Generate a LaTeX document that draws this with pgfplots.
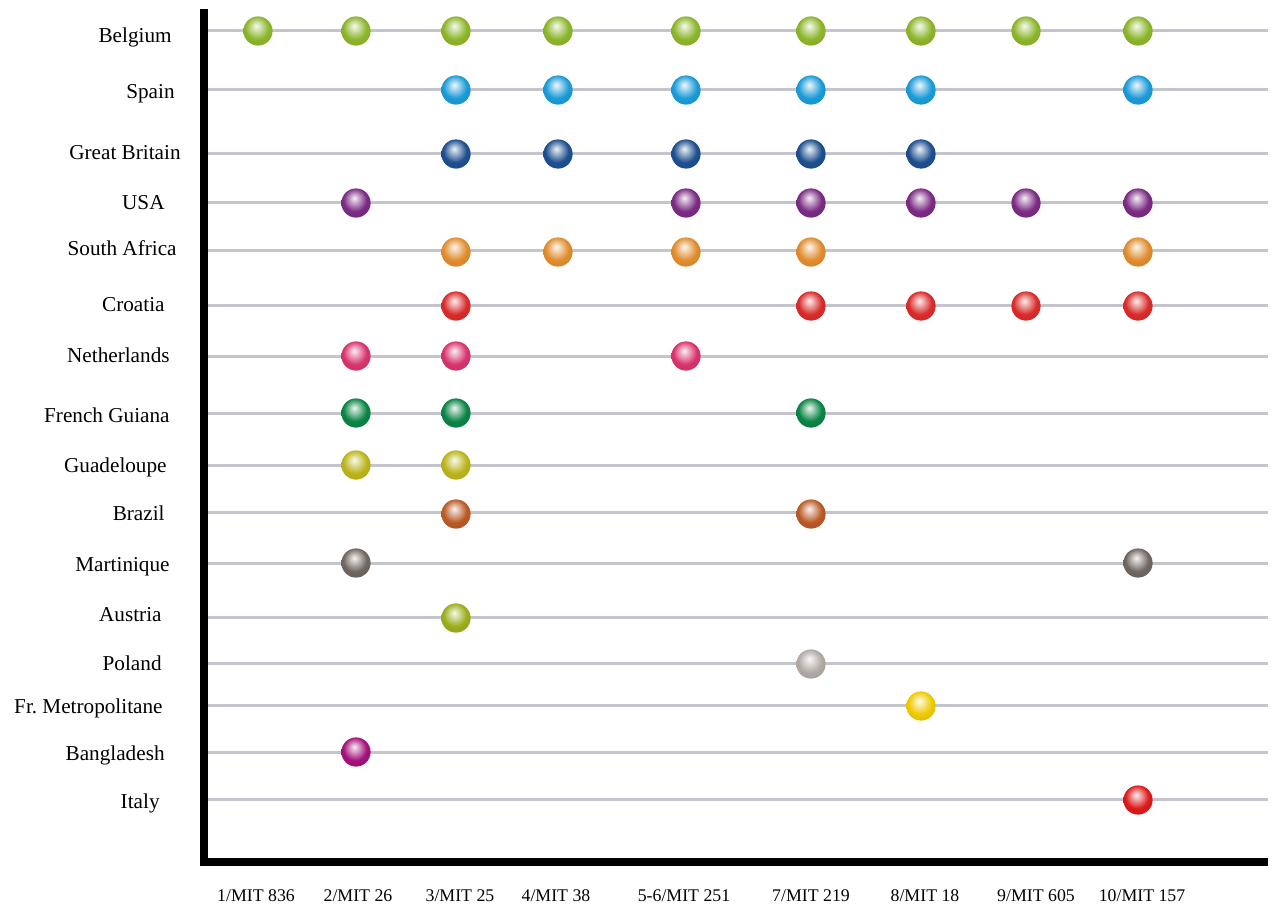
\documentclass[border=0pt]{standalone}
\usepackage{pgfplots}
\pgfplotsset{compat=1.18}
\usepackage{fontspec}
\setmainfont{Liberation Serif}

\definecolor{cBE}{HTML}{8CB52B}
\definecolor{cES}{HTML}{1A9BD7}
\definecolor{cGB}{HTML}{1D4F8F}
\definecolor{cUS}{HTML}{7B2B83}
\definecolor{cZA}{HTML}{E08C2E}
\definecolor{cHR}{HTML}{D92B2B}
\definecolor{cNL}{HTML}{D8336F}
\definecolor{cGF}{HTML}{0A8444}
\definecolor{cGP}{HTML}{BAB41A}
\definecolor{cBR}{HTML}{B95A26}
\definecolor{cMQ}{HTML}{6F6661}
\definecolor{cAT}{HTML}{9AAD1A}
\definecolor{cPL}{HTML}{B1A9A3}
\definecolor{cFR}{HTML}{EFC900}
\definecolor{cBD}{HTML}{A5117B}
\definecolor{cIT}{HTML}{DC1A1A}
\definecolor{gridgray}{HTML}{C4C4CC}
\colorlet{mb}{red}

\pgfdeclareradialshading[mb]{sph}{\pgfqpoint{-3bp}{9bp}}{%
  color(0bp)=(mb!8!white);
  color(5bp)=(mb!30!white);
  color(20bp)=(mb);
  color(40bp)=(mb!88!black);
  color(50bp)=(mb!78!black)}
\pgfdeclareplotmark{sphere}{%
  \pgfpathcircle{\pgfpointorigin}{\pgfplotmarksize}%
  \pgfshadepath{sph}{0}%
  \pgfusepath{}%
}

\pgfplotsset{
  row/.style={only marks, mark=sphere, mark size=7.3pt,
    mark options={/utils/exec={\colorlet{mb}{#1}}}},
  gl/.style={gridgray, line width=1.5pt, no marks},
}

\begin{document}
\begin{tikzpicture}
\begin{axis}[
  x=0.5pt, y=0.5pt,
  xmin=205, xmax=1268, ymin=-862, ymax=-9,
  clip=false,
  axis line style={draw=none},
  tick style={draw=none},
  xtick={256,358,460,556,684,811,925,1036,1142},
  xticklabels={1/MIT 836,2/MIT 26,3/MIT 25,4/MIT 38,5-6/MIT 251,7/MIT 219,8/MIT 18,9/MIT 605,10/MIT 157},
  xticklabel style={anchor=base, inner sep=0pt, yshift=-19.5pt, font=\fontsize{8.9}{10}\selectfont},
  ytick={-808,-760,-713,-670,-621,-571,-520,-472,-422,-362,-311,-255,-209,-159,-99,-43},
  yticklabels={Italy,Bangladesh\hspace*{-2.5pt},Fr.\ Metropolitane\hspace*{-1.5pt},Poland\hspace*{-1pt},Austria\hspace*{-1pt},Martinique\hspace*{-5pt},Brazil\hspace*{-2.5pt},Guadeloupe\hspace*{-3.5pt},French Guiana\hspace*{-5pt},Netherlands\hspace*{-5pt},Croatia\hspace*{-2.5pt},South Africa\hspace*{-8.5pt},USA\hspace*{-2.5pt},Great Britain\hspace*{-10.5pt},Spain\hspace*{-7.5pt},Belgium\hspace*{-6pt}},
  yticklabel style={anchor=base east, inner sep=0pt, xshift=-22.5pt, font=\fontsize{10.6}{12}\selectfont},
]
% invisible frame for the full picture size
\path (axis cs:0,0) rectangle (axis cs:1272,-907);

% grid lines of the rows
\addplot[gl] coordinates {(208,-30.7) (1268,-30.7)};
\addplot[gl] coordinates {(208,-89.3) (1268,-89.3)};
\addplot[gl] coordinates {(208,-153.7) (1268,-153.7)};
\addplot[gl] coordinates {(208,-202.3) (1268,-202.3)};
\addplot[gl] coordinates {(208,-250.7) (1268,-250.7)};
\addplot[gl] coordinates {(208,-305) (1268,-305)};
\addplot[gl] coordinates {(208,-356) (1268,-356)};
\addplot[gl] coordinates {(208,-413.3) (1268,-413.3)};
\addplot[gl] coordinates {(208,-465) (1268,-465)};
\addplot[gl] coordinates {(208,-512.7) (1268,-512.7)};
\addplot[gl] coordinates {(208,-563.3) (1268,-563.3)};
\addplot[gl] coordinates {(208,-617) (1268,-617)};
\addplot[gl] coordinates {(208,-663) (1268,-663)};
\addplot[gl] coordinates {(208,-705.3) (1268,-705.3)};
\addplot[gl] coordinates {(208,-752) (1268,-752)};
\addplot[gl] coordinates {(208,-799) (1268,-799)};

% axes (thick black L)
\draw[black, line width=3.6pt, line join=miter] (axis cs:204,-9) -- (axis cs:204,-862) -- (axis cs:1268,-862);

% Belgium
\addplot[row=cBE] coordinates {(258,-31) (356,-31) (456,-31) (558,-31) (686,-31) (811,-31) (921,-31) (1026,-31) (1138,-31)};
% Spain
\addplot[row=cES] coordinates {(456,-90) (558,-90) (686,-90) (811,-90) (921,-90) (1138,-90)};
% Great Britain
\addplot[row=cGB] coordinates {(456,-154) (558,-154) (686,-154) (811,-154) (921,-154)};
% USA
\addplot[row=cUS] coordinates {(356,-203) (686,-203) (811,-203) (921,-203) (1026,-203) (1138,-203)};
% South Africa
\addplot[row=cZA] coordinates {(456,-252) (558,-252) (686,-252) (811,-252) (1138,-252)};
% Croatia
\addplot[row=cHR] coordinates {(456,-306) (811,-306) (921,-306) (1026,-306) (1138,-306)};
% Netherlands
\addplot[row=cNL] coordinates {(356,-356) (456,-356) (686,-356)};
% French Guiana
\addplot[row=cGF] coordinates {(356,-413) (456,-413) (811,-413)};
% Guadeloupe
\addplot[row=cGP] coordinates {(356,-465) (456,-465)};
% Brazil
\addplot[row=cBR] coordinates {(456,-514) (811,-514)};
% Martinique
\addplot[row=cMQ] coordinates {(356,-563) (1138,-563)};
% Austria
\addplot[row=cAT] coordinates {(456,-618)};
% Poland
\addplot[row=cPL] coordinates {(811,-664)};
% Fr. Metropolitane
\addplot[row=cFR] coordinates {(921,-706)};
% Bangladesh
\addplot[row=cBD] coordinates {(356,-752)};
% Italy
\addplot[row=cIT] coordinates {(1138,-800)};
\end{axis}
\end{tikzpicture}
\end{document}
